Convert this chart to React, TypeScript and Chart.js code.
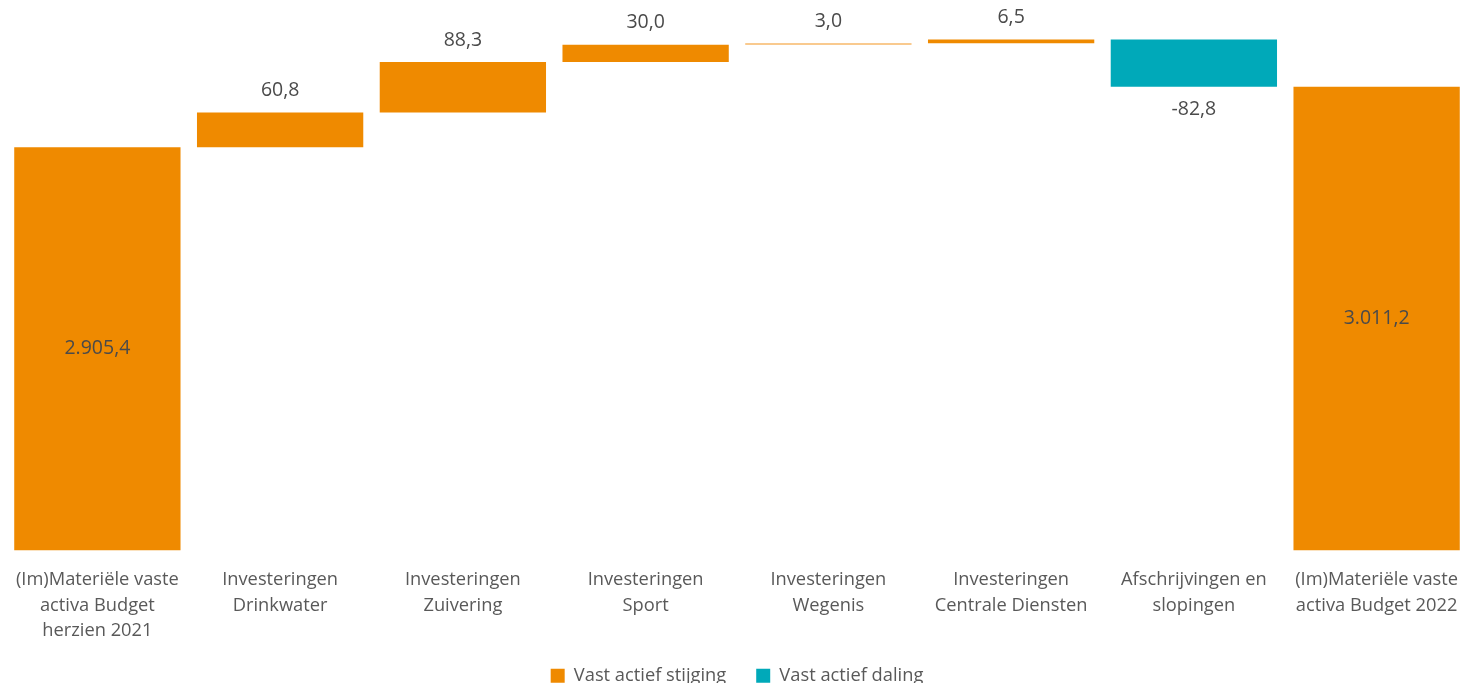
import React, { useEffect, useRef } from "react";
import { Chart, registerables } from "chart.js";

Chart.register(...registerables);

const categories: string[][] = [
  ["(Im)Materiële vaste", "activa Budget", "herzien 2021"],
  ["Investeringen", "Drinkwater"],
  ["Investeringen", "Zuivering"],
  ["Investeringen", "Sport"],
  ["Investeringen", "Wegenis"],
  ["Investeringen", "Centrale Diensten"],
  ["Afschrijvingen en", "slopingen"],
  ["(Im)Materiële vaste", "activa Budget 2022"],
];
const values: number[] = [2905.4, 60.8, 88.3, 30.0, 3.0, 6.5, -82.8, 3011.2];
const isTotal: boolean[] = [true, false, false, false, false, false, false, true];
const seriesNames: string[] = ["Vast actief stijging", "Vast actief daling"];

const ORANGE = "#EF8A00";
const LIGHT_ORANGE = "#F7B86A";
const TEAL = "#00A9B9";
const TEXT = "#4a4a4a";
const AXIS_TEXT = "#595959";
const FONT = "'Open Sans', sans-serif";

function fmt(v: number): string {
  const neg = v < 0;
  const a = Math.abs(v);
  const [ip, dp] = a.toFixed(1).split(".");
  const withDots = ip.replace(/\B(?=(\d{3})+(?!\d))/g, ".");
  return (neg ? "-" : "") + withDots + "," + dp;
}

export default function App() {
  const ref = useRef<HTMLCanvasElement | null>(null);

  useEffect(() => {
    if (!ref.current) return;
    const ranges: ([number, number] | null)[] = [];
    let run = 0;
    values.forEach((v, i) => {
      if (isTotal[i]) {
        ranges.push([0, v]);
        run = v;
      } else {
        ranges.push([run, run + v]);
        run += v;
      }
    });
    const upData = ranges.map((r, i) => (values[i] >= 0 || isTotal[i] ? r : null));
    const downData = ranges.map((r, i) => (values[i] < 0 && !isTotal[i] ? r : null));
    const upColors = values.map((v, i) => (i === 4 ? LIGHT_ORANGE : ORANGE));

    const labelPlugin = {
      id: "wfLabels",
      afterDatasetsDraw(chart: any) {
        const ctx = chart.ctx;
        const area = chart.chartArea;
        ctx.save();
        ctx.font = `19.5px ${FONT}`;
        ctx.fillStyle = TEXT;
        ctx.textAlign = "center";
        ctx.textBaseline = "middle";
        chart.data.datasets.forEach((ds: any, di: number) => {
          const meta = chart.getDatasetMeta(di);
          meta.data.forEach((el: any, i: number) => {
            if (ds.data[i] == null) return;
            const v = values[i];
            const top = Math.min(el.y, el.base);
            const bot = Math.min(Math.max(el.y, el.base), area.bottom);
            let y: number;
            if (isTotal[i]) y = (top + bot) / 2;
            else if (v >= 0) y = top - 22;
            else y = bot + 23;
            ctx.fillText(fmt(v), el.x, y);
          });
        });
        ctx.restore();
      },
    };

    const chart = new Chart(ref.current, {
      type: "bar",
      data: {
        labels: categories,
        datasets: [
          {
            label: seriesNames[0],
            data: upData as any,
            backgroundColor: upColors,
            grouped: false,
            categoryPercentage: 1,
            barPercentage: 0.91,
          },
          {
            label: seriesNames[1],
            data: downData as any,
            backgroundColor: TEAL,
            grouped: false,
            categoryPercentage: 1,
            barPercentage: 0.91,
          },
        ],
      },
      options: {
        animation: false,
        responsive: true,
        maintainAspectRatio: false,
        layout: { padding: { top: 36, left: 0, right: 0, bottom: 0 } },
        scales: {
          x: {
            grid: { display: false },
            border: { display: false },
            afterFit: (scale: any) => {
              scale.height -= 16;
            },
            ticks: {
              color: AXIS_TEXT,
              font: { family: FONT, size: 18.3, lineHeight: 25.5 / 18.3 },
              padding: 9,
              maxRotation: 0,
              autoSkip: false,
            },
          },
          y: {
            display: false,
            min: 2200,
            max: 3100,
          },
        },
        plugins: {
          legend: {
            position: "bottom",
            labels: {
              color: AXIS_TEXT,
              font: { family: FONT, size: 18.3 },
              boxWidth: 14,
              boxHeight: 14,
              padding: 30,
              generateLabels: () => [
                { text: seriesNames[0], fillStyle: ORANGE, strokeStyle: ORANGE, fontColor: AXIS_TEXT, lineWidth: 0, datasetIndex: 0, hidden: false } as any,
                { text: seriesNames[1], fillStyle: TEAL, strokeStyle: TEAL, fontColor: AXIS_TEXT, lineWidth: 0, datasetIndex: 1, hidden: false } as any,
              ],
            },
          },
          tooltip: { enabled: false },
        },
      },
      plugins: [labelPlugin],
    });
    return () => chart.destroy();
  }, []);

  return (
    <div style={{ position: "absolute", left: 0, top: 0, width: 1462, height: 683, overflow: "hidden", background: "#fff" }}>
      <div style={{ position: "absolute", left: 6, top: 0, width: 1462, height: 695 }}>
        <canvas ref={ref} />
      </div>
    </div>
  );
}
